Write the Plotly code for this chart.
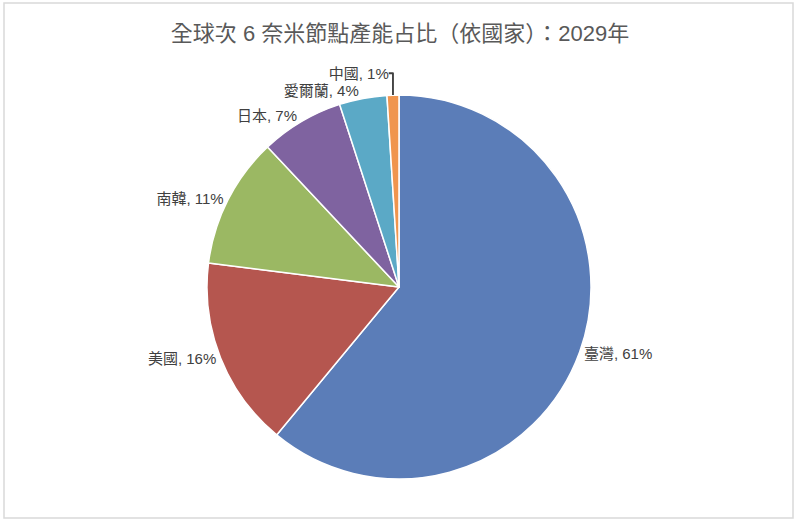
import plotly.graph_objects as go

# data
countries = ["臺灣", "美國", "南韓", "日本", "愛爾蘭", "中國"]
shares = [61, 16, 11, 7, 4, 1]
slice_colors = ["#5B7DB8", "#B5564F", "#9BB863", "#7F63A0", "#5BA9C6", "#F0954E"]

title_text = "全球次 6 奈米節點產能占比（依國家）：2029年"

font_family = "Liberation Sans, Noto Sans CJK TC, sans-serif"
W, H = 800, 523

fig = go.Figure()
fig.add_trace(go.Pie(
    labels=countries,
    values=shares,
    sort=False,
    direction="clockwise",
    rotation=0,
    marker=dict(colors=slice_colors, line=dict(color="white", width=1.5)),
    textposition="outside",
    texttemplate="%{label}, %{percent:.0%}",
    textfont=dict(size=15, color="#404040", family=font_family),
    showlegend=False,
    hoverinfo="label+percent",
    # pie centre ~ (400, 287), radius ~ 192 px
    domain=dict(x=[0, 1], y=[(H - 479) / H, (H - 95) / H]),
))

fig.update_layout(
    width=W, height=H,
    margin=dict(l=0, r=0, t=0, b=0),
    paper_bgcolor="white",
    title=dict(text=title_text, x=0.5, xanchor="center", y=1 - 33 / H, yanchor="middle",
               font=dict(size=22, color="#595959", family=font_family)),
    # light frame round the chart, sized in pixels from the centre
    shapes=[dict(type="rect", xref="paper", yref="paper",
                 xsizemode="pixel", xanchor=0.5, x0=5 - W / 2, x1=794 - W / 2,
                 y0=1 - 518 / H, y1=1 - 3 / H,
                 line=dict(color="#D9D9D9", width=1.5), layer="below")],
)

# page body has a default 8px margin; drop it so the figure sits at (0, 0)
fig.write_html("out.html", config={"displayModeBar": False},
               post_script="document.body.style.margin='0';")
